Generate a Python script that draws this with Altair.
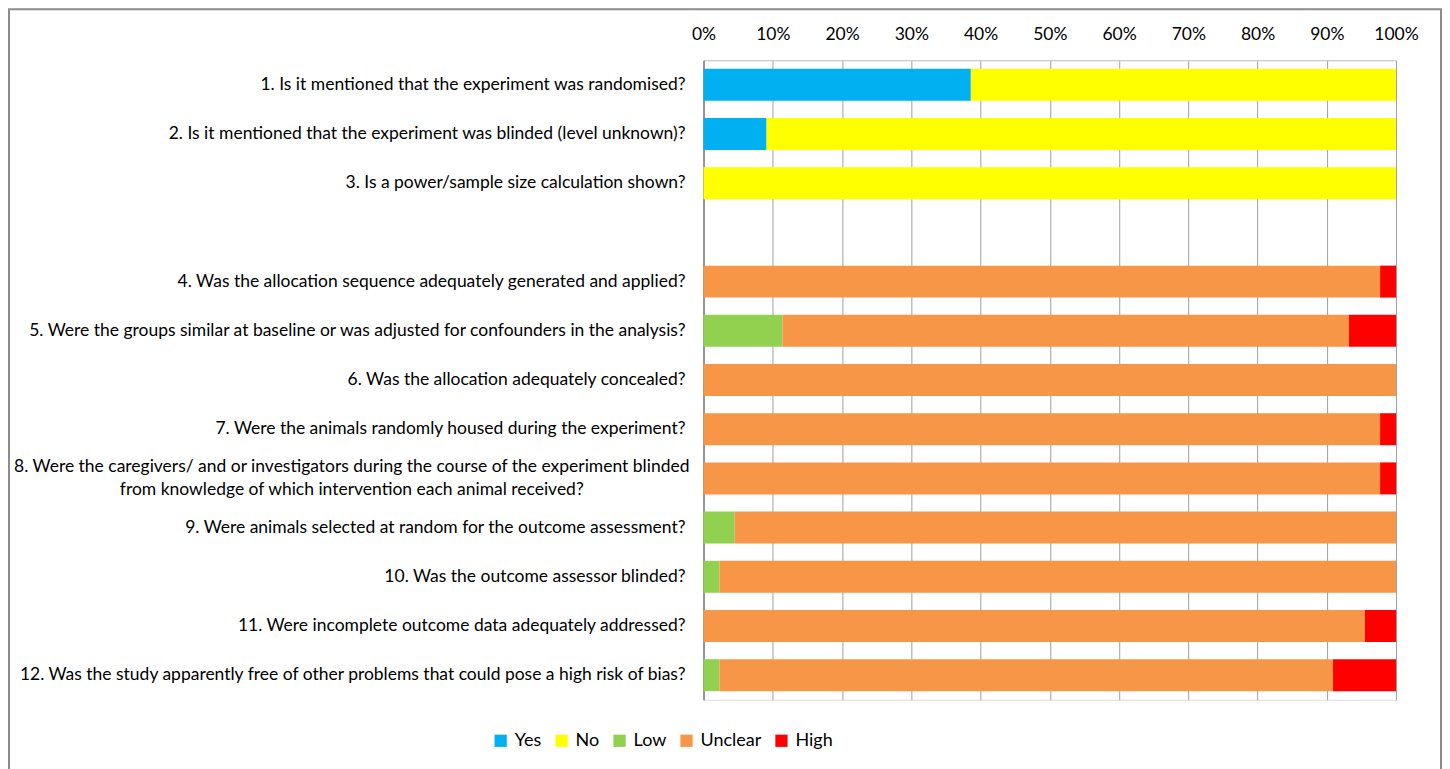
import altair as alt
import pandas as pd

questions = [
    "1. Is it mentioned that the experiment was randomised?",
    "2. Is it mentioned that the experiment was blinded (level unknown)?",
    "3. Is a power/sample size calculation shown?",
    " ",
    "4. Was the allocation sequence adequately generated and applied?",
    "5. Were the groups similar at baseline or was adjusted for confounders in the analysis?",
    "6. Was the allocation adequately concealed?",
    "7. Were the animals randomly housed during the experiment?",
    "8. Were the caregivers/ and or investigators during the course of the experiment blinded|from knowledge of which intervention each animal received?",
    "9. Were animals selected at random for the outcome assessment?",
    "10. Was the outcome assessor blinded?",
    "11. Were incomplete outcome data adequately addressed?",
    "12. Was the study apparently free of other problems that could pose a high risk of bias?",
]

categories = ["Yes", "No", "Low", "Unclear", "High"]
colors = ["#00B0F0", "#FFFF00", "#92D050", "#F79646", "#FF0000"]

# percentages per question (blank row has none)
yes_vals     = [38.6, 9.1, 0.0, 0, 0, 0, 0, 0, 0, 0, 0, 0, 0]
no_vals      = [61.4, 90.9, 100.0, 0, 0, 0, 0, 0, 0, 0, 0, 0, 0]
low_vals     = [0, 0, 0, 0, 0.0, 11.4, 0.0, 0.0, 0.0, 4.5, 2.3, 0.0, 2.3]
unclear_vals = [0, 0, 0, 0, 97.7, 81.8, 100.0, 97.7, 97.7, 95.5, 97.7, 95.5, 88.6]
high_vals    = [0, 0, 0, 0, 2.3, 6.8, 0.0, 2.3, 2.3, 0.0, 0.0, 4.5, 9.1]

series = {"Yes": yes_vals, "No": no_vals, "Low": low_vals, "Unclear": unclear_vals, "High": high_vals}

rows = []
for ci, cat in enumerate(categories):
    for q, v in zip(questions, series[cat]):
        if v > 0:
            rows.append({"q": q, "cat": cat, "val": v / 100.0, "order": ci})
bars_df = pd.DataFrame(rows)

labels_df = pd.DataFrame({"q": questions, "label": questions})
multi_q = questions[8]

FONT = "Lato"
FS = 17.5
W, H = 693, 640

yscale = alt.Scale(domain=questions, paddingInner=0.35, paddingOuter=0.175)

bars = alt.Chart(bars_df).mark_bar().encode(
    x=alt.X("val:Q", stack="zero",
            scale=alt.Scale(domain=[0, 1], nice=False),
            axis=alt.Axis(orient="top", format=".0%", values=[i / 10 for i in range(11)],
                          title=None, ticks=False, labelPadding=17, labelFlush=False,
                          grid=True, gridColor="#a0a0a0", gridWidth=1,
                          domainColor="#c8c8c8", domainWidth=1,
                          labelFont=FONT, labelFontSize=FS, labelColor="#000000")),
    y=alt.Y("q:N", scale=yscale,
            axis=alt.Axis(labels=False, ticks=False, title=None, grid=False,
                          domainColor="#868686", domainWidth=1.5)),
    color=alt.Color("cat:N",
                    scale=alt.Scale(domain=categories, range=colors),
                    legend=alt.Legend(title=None, orient="none", direction="horizontal",
                                      legendX=-212, legendY=672,
                                      symbolType="square", symbolSize=150,
                                      symbolStrokeWidth=0, labelFont=FONT,
                                      labelFontSize=18, labelColor="#000000",
                                      labelOffset=5, columnPadding=11)),
    order=alt.Order("order:Q"),
)

text_single = alt.Chart(labels_df).transform_filter(
    alt.datum.q != multi_q
).mark_text(align="right", baseline="middle", font=FONT, fontSize=FS, color="#000000").encode(
    y=alt.Y("q:N", scale=yscale),
    x=alt.value(-18),
    text="label:N",
)

text_multi = alt.Chart(labels_df).transform_filter(
    alt.datum.q == multi_q
).transform_calculate(
    lines="split(datum.label, '|')"
).mark_text(align="center", baseline="middle", font=FONT, fontSize=FS, color="#000000",
            lineHeight=23, dy=-11).encode(
    y=alt.Y("q:N", scale=yscale),
    x=alt.value(-352),
    text="lines:N",
)

frame = alt.Chart(pd.DataFrame({"a": [0]})).mark_rect(
    filled=False, stroke="#8c8c8c", strokeWidth=2
).encode(
    x=alt.value(-695), x2=alt.value(W + 45),
    y=alt.value(-51), y2=alt.value(H + 90),
)

chart = alt.layer(frame, bars, text_single, text_multi).properties(
    width=W, height=H, padding=0
).configure_view(strokeWidth=0).configure(background="#ffffff")

chart.save("out.html", embed_options={"renderer": "svg", "actions": False})
